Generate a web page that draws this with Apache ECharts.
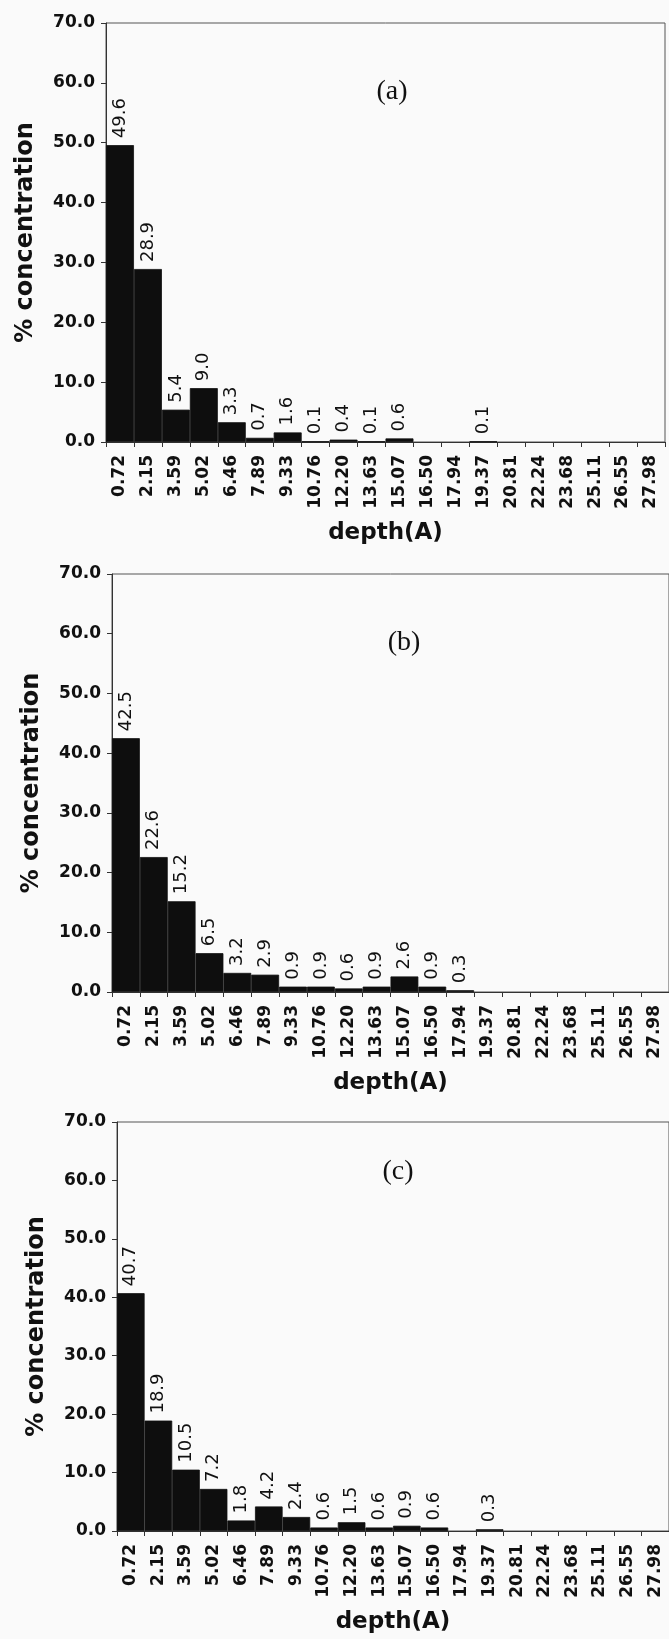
<!DOCTYPE html>
<html>
<head>
<meta charset="utf-8">
<script src="https://cdn.jsdelivr.net/npm/echarts@6/dist/echarts.min.js"></script>
<style>
  html, body { margin: 0; padding: 0; background: #fafafa; }
  #chart { width: 669px; height: 1639px; }
</style>
</head>
<body>
<div id="chart"></div>
<script>
// ---- data ----
const categories = ['0.72','2.15','3.59','5.02','6.46','7.89','9.33','10.76','12.20','13.63',
                    '15.07','16.50','17.94','19.37','20.81','22.24','23.68','25.11','26.55','27.98'];
const valuesA = [49.6, 28.9, 5.4, 9.0, 3.3, 0.7, 1.6, 0.1, 0.4, 0.1, 0.6, null, null, 0.1, null, null, null, null, null, null];
const valuesB = [42.5, 22.6, 15.2, 6.5, 3.2, 2.9, 0.9, 0.9, 0.6, 0.9, 2.6, 0.9, 0.3, null, null, null, null, null, null, null];
const valuesC = [40.7, 18.9, 10.5, 7.2, 1.8, 4.2, 2.4, 0.6, 1.5, 0.6, 0.9, 0.6, null, 0.3, null, null, null, null, null, null];
const panelLabels = ['(a)', '(b)', '(c)'];
const yMin = 0, yMax = 70, yInterval = 10;
const yTitle = '% concentration';
const xTitle = 'depth(A)';

// ---- layout / style ----
const panels = [
  { values: valuesA, left: 106, top: 23,   width: 559, height: 419, tag: [392, 92] },
  { values: valuesB, left: 112, top: 574,  width: 557, height: 418, tag: [404, 643] },
  { values: valuesC, left: 117, top: 1122, width: 553, height: 409, tag: [398, 1172] }
];
const ink = '#111';
const sans = 'DejaVu Sans';

const grids = [], xAxes = [], yAxes = [], series = [], graphics = [];
panels.forEach((p, i) => {
  grids.push({ left: p.left, top: p.top, width: p.width, height: p.height,
               show: true, borderColor: '#555', borderWidth: 1, backgroundColor: 'transparent' });
  xAxes.push({
    type: 'category', gridIndex: i, data: categories,
    boundaryGap: true,
    axisLine: { lineStyle: { color: '#333', width: 1 } },
    axisTick: { show: true, length: 5, lineStyle: { color: '#333' } },
    axisLabel: { interval: 0, rotate: 90, margin: 13, color: ink,
                 fontFamily: sans, fontWeight: 'bold', fontSize: 17 },
    name: xTitle, nameLocation: 'middle', nameGap: 80,
    nameTextStyle: { color: ink, fontFamily: sans, fontWeight: 'bold', fontSize: 23 }
  });
  yAxes.push({
    type: 'value', gridIndex: i, min: yMin, max: yMax, interval: yInterval,
    splitLine: { show: false },
    axisLine: { show: true, lineStyle: { color: '#333', width: 1 } },
    axisTick: { show: true, length: 5, lineStyle: { color: '#333' } },
    axisLabel: { margin: 11, color: ink, fontFamily: sans, fontWeight: 'bold', fontSize: 17,
                 formatter: v => v.toFixed(1) },
    name: yTitle, nameLocation: 'middle', nameGap: 68, nameRotate: 90,
    nameTextStyle: { color: ink, fontFamily: sans, fontWeight: 'bold', fontSize: 24 }
  });
  series.push({
    type: 'bar', xAxisIndex: i, yAxisIndex: i, data: p.values,
    barWidth: '100%', barCategoryGap: '0%',
    itemStyle: { color: '#0e0e0e', borderColor: '#111', borderWidth: 0.8 },
    label: { show: true, position: 'top', rotate: 90, align: 'left', verticalAlign: 'middle',
             distance: 7, color: ink, fontFamily: sans, fontSize: 18,
             formatter: d => d.value == null ? '' : Number(d.value).toFixed(1) },
    animation: false
  });
  graphics.push({
    type: 'text', x: p.tag[0], y: p.tag[1],
    style: { text: panelLabels[i], fill: ink, font: '28px "Liberation Serif"',
             textAlign: 'center', textVerticalAlign: 'middle' }
  });
});

const chart = echarts.init(document.getElementById('chart'), null, { renderer: 'canvas' });
chart.setOption({
  backgroundColor: '#fafafa',
  animation: false,
  grid: grids, xAxis: xAxes, yAxis: yAxes, series: series,
  graphic: graphics
});
</script>
</body>
</html>
